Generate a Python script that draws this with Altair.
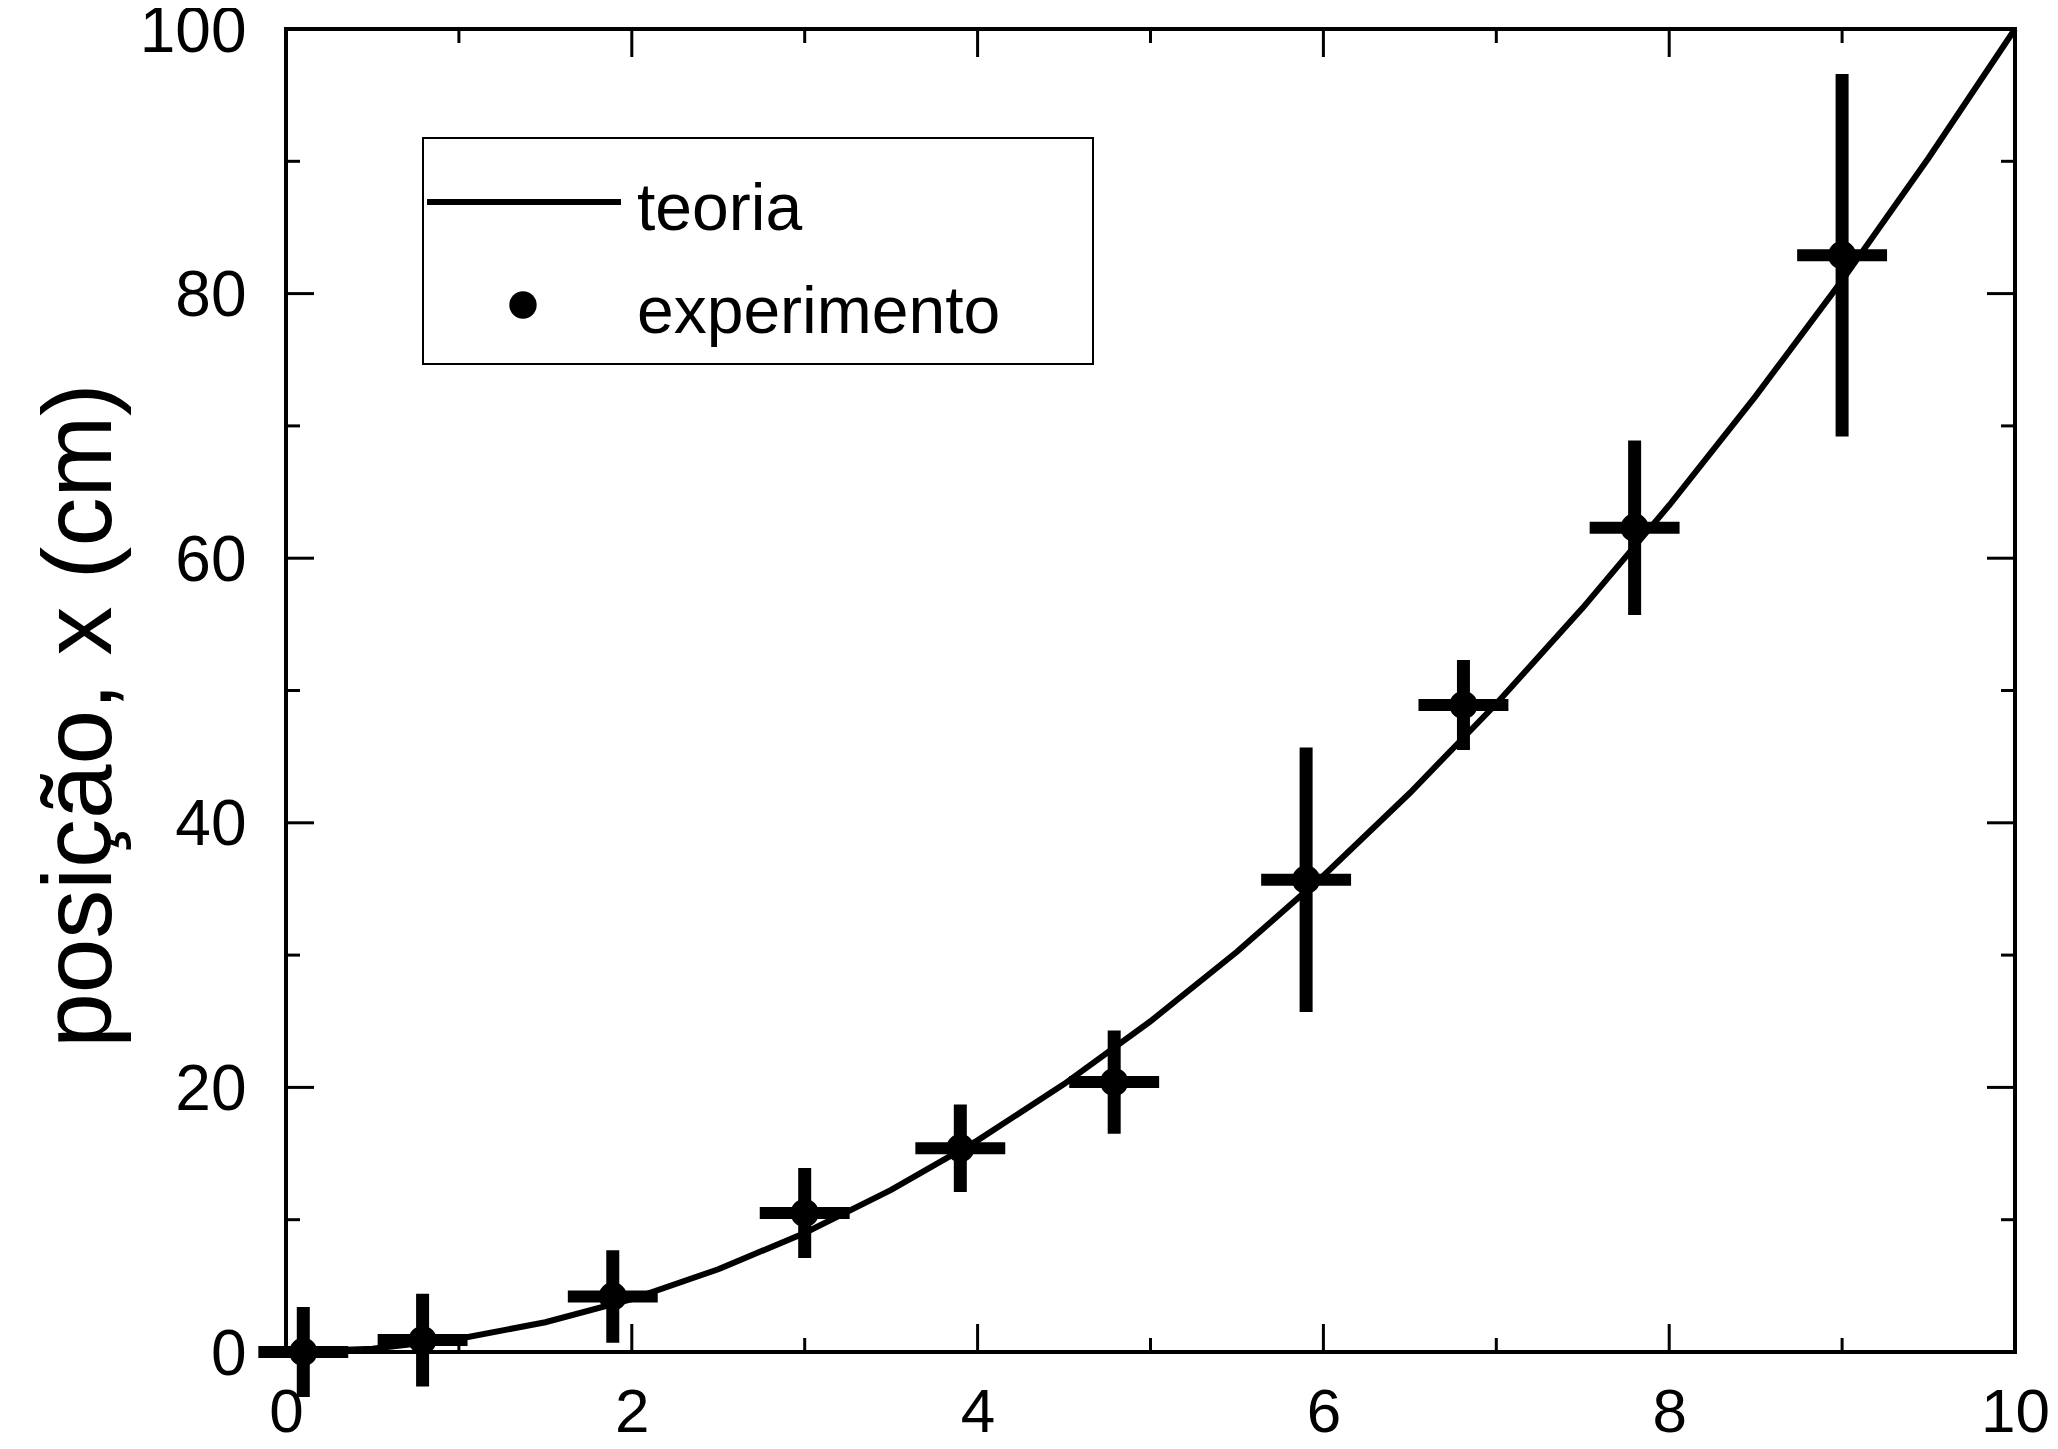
import altair as alt
import pandas as pd

# ---------------- data ----------------
# theory curve
t_theory = [0.0, 0.5, 1.0, 1.5, 2.0, 2.5, 3.0, 3.5, 4.0, 4.5, 5.0,
            5.5, 6.0, 6.5, 7.0, 7.5, 8.0, 8.5, 9.0, 9.5, 10.0]
x_theory = [0.0, 0.25, 1.0, 2.25, 4.0, 6.25, 9.0, 12.25, 16.0, 20.25, 25.0,
            30.25, 36.0, 42.25, 49.0, 56.25, 64.0, 72.25, 81.0, 90.25, 100.0]

# experiment points
t_exp = [0.10, 0.79, 1.89, 3.00, 3.90, 4.79, 5.90, 6.81, 7.80, 9.00]
x_exp = [0.0, 0.9, 4.2, 10.5, 15.4, 20.4, 35.7, 48.9, 62.3, 82.9]
t_err = [0.26, 0.26, 0.26, 0.26, 0.26, 0.26, 0.26, 0.26, 0.26, 0.26]
x_err = [3.4, 3.5, 3.5, 3.4, 3.3, 3.9, 10.0, 3.4, 6.6, 13.7]

# axis ticks
x_major = [0, 2, 4, 6, 8, 10]
x_minor = [1, 3, 5, 7, 9]
y_major = [0, 20, 40, 60, 80, 100]
y_minor = [10, 30, 50, 70, 90]

legend_labels = ["teoria", "experimento"]
y_title = "posição, x (cm)"

# ---------------- layout ----------------
W, H = 1729, 1323
FONT = "Liberation Sans"
MAJ, MIN = 28, 14

theory = pd.DataFrame({"t": t_theory, "x": x_theory})
exp = pd.DataFrame({"t": t_exp, "x": x_exp, "te": t_err, "xe": x_err})
exp["xlo"] = exp["x"] - exp["xe"]
exp["xhi"] = exp["x"] + exp["xe"]
exp["tlo"] = exp["t"] - exp["te"]
exp["thi"] = exp["t"] + exp["te"]

xs = alt.Scale(domain=[0, 10], nice=False, zero=False)
ys = alt.Scale(domain=[0, 100], nice=False, zero=False)

XAX = alt.Axis(
    values=x_major, title=None, grid=False, domain=False, ticks=False, tickSize=0,
    labelFontSize=62, labelPadding=30, labelColor="black", labelFont=FONT,
    labelFlush=False)
YAX = alt.Axis(
    values=y_major, title=y_title, grid=False, domain=False, ticks=False, tickSize=0,
    labelFontSize=64, labelPadding=40, labelColor="black", labelFont=FONT,
    labelOffset=3, labelFlush=False,
    titleFontSize=98, titleFontWeight="normal", titleFont=FONT, titleColor="black",
    titleAngle=270, titleX=-176, titleY=686, titleBaseline="alphabetic",
    titleAlign="center")

line = alt.Chart(theory).mark_line(color="black", strokeWidth=6, clip=False).encode(
    x=alt.X("t:Q", scale=xs, axis=XAX),
    y=alt.Y("x:Q", scale=ys, axis=YAX),
)

vbar = alt.Chart(exp).mark_rule(color="black", strokeWidth=13).encode(
    x=alt.X("t:Q", scale=xs, axis=XAX),
    y=alt.Y("xlo:Q", scale=ys, axis=YAX),
    y2="xhi:Q",
)
hbar = alt.Chart(exp).mark_rule(color="black", strokeWidth=12).encode(
    x=alt.X("tlo:Q", scale=xs, axis=XAX),
    x2="thi:Q",
    y=alt.Y("x:Q", scale=ys, axis=YAX),
)
pts = alt.Chart(exp).mark_circle(color="black", opacity=1, size=800).encode(
    x=alt.X("t:Q", scale=xs, axis=XAX),
    y=alt.Y("x:Q", scale=ys, axis=YAX),
)

# inward ticks on all four sides
def xticks(vals, length):
    d = pd.DataFrame({"v": vals})
    bottom = alt.Chart(d).mark_rule(color="black", strokeWidth=3).encode(
        x=alt.X("v:Q", scale=xs, axis=XAX), y=alt.value(H), y2=alt.value(H - length))
    top = alt.Chart(d).mark_rule(color="black", strokeWidth=3).encode(
        x=alt.X("v:Q", scale=xs, axis=XAX), y=alt.value(0), y2=alt.value(length))
    return [bottom, top]

def yticks(vals, length):
    d = pd.DataFrame({"v": vals})
    left = alt.Chart(d).mark_rule(color="black", strokeWidth=3).encode(
        y=alt.Y("v:Q", scale=ys, axis=YAX), x=alt.value(0), x2=alt.value(length))
    right = alt.Chart(d).mark_rule(color="black", strokeWidth=3).encode(
        y=alt.Y("v:Q", scale=ys, axis=YAX), x=alt.value(W - length), x2=alt.value(W))
    return [left, right]

ticks = xticks(x_major, MAJ) + xticks(x_minor, MIN) + yticks(y_major, MAJ) + yticks(y_minor, MIN)

# legend box (drawn by hand)
one = pd.DataFrame({"k": [0]})
leg_box = alt.Chart(one).mark_rect(fill="white", stroke="black", strokeWidth=2).encode(
    x=alt.value(137), x2=alt.value(807), y=alt.value(109), y2=alt.value(335))
leg_line = alt.Chart(one).mark_rule(color="black", strokeWidth=6).encode(
    x=alt.value(141), x2=alt.value(335), y=alt.value(173))
leg_dot = alt.Chart(one).mark_circle(color="black", opacity=1, size=750).encode(
    x=alt.value(237), y=alt.value(276))
leg_t1 = alt.Chart(one).mark_text(align="left", baseline="alphabetic", fontSize=66,
                                   font=FONT, color="black").encode(
    x=alt.value(351), y=alt.value(201), text=alt.value(legend_labels[0]))
leg_t2 = alt.Chart(one).mark_text(align="left", baseline="alphabetic", fontSize=66,
                                   font=FONT, color="black").encode(
    x=alt.value(351), y=alt.value(304), text=alt.value(legend_labels[1]))

chart = alt.layer(
    line, *ticks, vbar, hbar, pts, leg_box, leg_line, leg_dot, leg_t1, leg_t2
).properties(
    width=W, height=H,
    autosize=alt.AutoSizeParams(type="none"),
    padding={"left": 278, "top": 21, "right": 33, "bottom": 88},
    background="white",
).configure(
    font=FONT
).configure_view(
    stroke="black", strokeWidth=4
)

chart.save("out.html", embed_options={"renderer": "svg", "actions": False})
